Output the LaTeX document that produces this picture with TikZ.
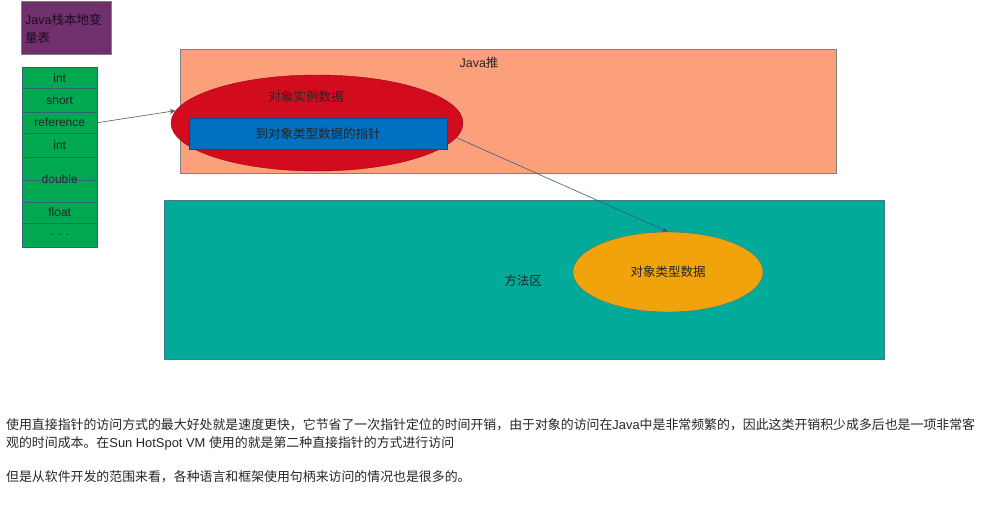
\documentclass[tikz,border=0pt]{standalone}
\usepackage{fontspec}
\setmainfont{Liberation Sans}
\newfontfamily\cjk{Noto Sans CJK SC}
\usetikzlibrary{shapes.geometric,arrows.meta}
\pgfdeclarelayer{back}
\pgfdeclarelayer{mid}
\pgfsetlayers{back,mid,main}
\definecolor{purplebox}{HTML}{70306E}
\definecolor{cellgreen}{HTML}{00A84F}
\definecolor{cellborder}{HTML}{2F6478}
\definecolor{heapfill}{HTML}{FCA07C}
\definecolor{heapborder}{HTML}{808080}
\definecolor{objred}{HTML}{D20C1E}
\definecolor{ptrblue}{HTML}{0070C0}
\definecolor{methodteal}{HTML}{02AB99}
\definecolor{methodborder}{HTML}{3F7A86}
\definecolor{typeorange}{HTML}{F0A30A}
\definecolor{txt}{HTML}{262626}
\definecolor{arrowgray}{HTML}{5A5A5A}
\definecolor{arrowblue}{HTML}{3A5A82}
\tikzset{
  lbl/.style={font=\fontsize{12.5}{15}\selectfont, text=txt, inner sep=0},
  cell/.style={draw=cellborder, fill=cellgreen, minimum width=75pt, inner sep=0, anchor=north west, text=txt, font=\fontsize{12}{14}\selectfont},
  para/.style={anchor=west, inner sep=0, text=txt, font=\fontsize{12.9}{16}\selectfont},
  conn/.style={-{Stealth[length=6pt,width=5pt]}, line width=0.6pt}
}
\begin{document}
\begin{tikzpicture}[x=1pt,y=-1pt]
\begin{pgfonlayer}{back}
\fill[white] (0,0) rectangle (997,525);
\end{pgfonlayer}
\useasboundingbox (0,0) rectangle (997,525);
% purple title box
\node[draw=heapborder, fill=purplebox, minimum width=90pt, minimum height=53pt, anchor=north west, inner sep=0] (title) at (21,1) {};
\node[lbl, anchor=north west, align=left, text=black!75!purplebox] (titletxt) at (25,14) {Java{\cjk 栈本地变}\\[3pt]{\cjk 量表}};
% stack cells
\node[cell, minimum height=21pt] (c1) at (22,67) {int};
\node[cell, minimum height=24pt] (c2) at (22,88) {short};
\node[cell, minimum height=21pt] (c3) at (22,112) {reference};
\node[cell, minimum height=24pt] (c4) at (22,133) {int};
\node[cell, minimum height=45pt] (c5) at (22,157) {double};
\draw[cellborder] (c5.west) -- (c5.east);
\node[cell, minimum height=21pt] (c6) at (22,202) {float};
\node[cell, minimum height=24pt] (c7) at (22,223) {. . .};
% heap and method area
\begin{pgfonlayer}{back}
\node[draw=heapborder, fill=heapfill, minimum width=656pt, minimum height=124pt, anchor=north west, inner sep=0] (heap) at (180,49) {};
\node[draw=methodborder, fill=methodteal, minimum width=720pt, minimum height=159pt, anchor=north west, inner sep=0] (method) at (164,200) {};
\end{pgfonlayer}
\node[lbl] (heaptxt) at (479,63) {Java{\cjk 推}};
\node[lbl] (methodtxt) at (523,281) {\cjk 方法区};
% objects
\node[ellipse, draw=objred!70!black, fill=objred, minimum width=292pt, minimum height=96pt, inner sep=0] (obj) at (317,123) {};
\node[lbl] (objtxt) at (306,97) {\cjk 对象实例数据};
\node[draw=ptrblue!70!black, fill=ptrblue, minimum width=258pt, minimum height=31pt, inner sep=0] (ptr) at (318,133.5) {\fontsize{12.5}{15}\selectfont\color{txt}\cjk 到对象类型数据的指针};
\node[ellipse, draw=methodborder, fill=typeorange, minimum width=190pt, minimum height=80pt, inner sep=0] (type) at (668,272) {\fontsize{12.5}{15}\selectfont\color{txt}\cjk 对象类型数据};
% connectors
\draw[conn, arrowgray] (c3.east) -- (obj.175);
\begin{pgfonlayer}{mid}
\draw[conn, arrowblue] (ptr.east) -- (type.north);
\end{pgfonlayer}
% paragraph
\node[para] (p1) at (6,425) {{\cjk 使用直接指针的访问方式的最大好处就是速度更快，它节省了一次指针定位的时间开销，由于对象的访问在}Java{\cjk 中是非常频繁的，因此这类开销积少成多后也是一项非常客}};
\node[para] (p2) at (6,443) {{\cjk 观的时间成本。在}Sun HotSpot VM {\cjk 使用的就是第二种直接指针的方式进行访问}};
\node[para] (p3) at (6,477) {\cjk 但是从软件开发的范围来看，各种语言和框架使用句柄来访问的情况也是很多的。};
\end{tikzpicture}
\end{document}
